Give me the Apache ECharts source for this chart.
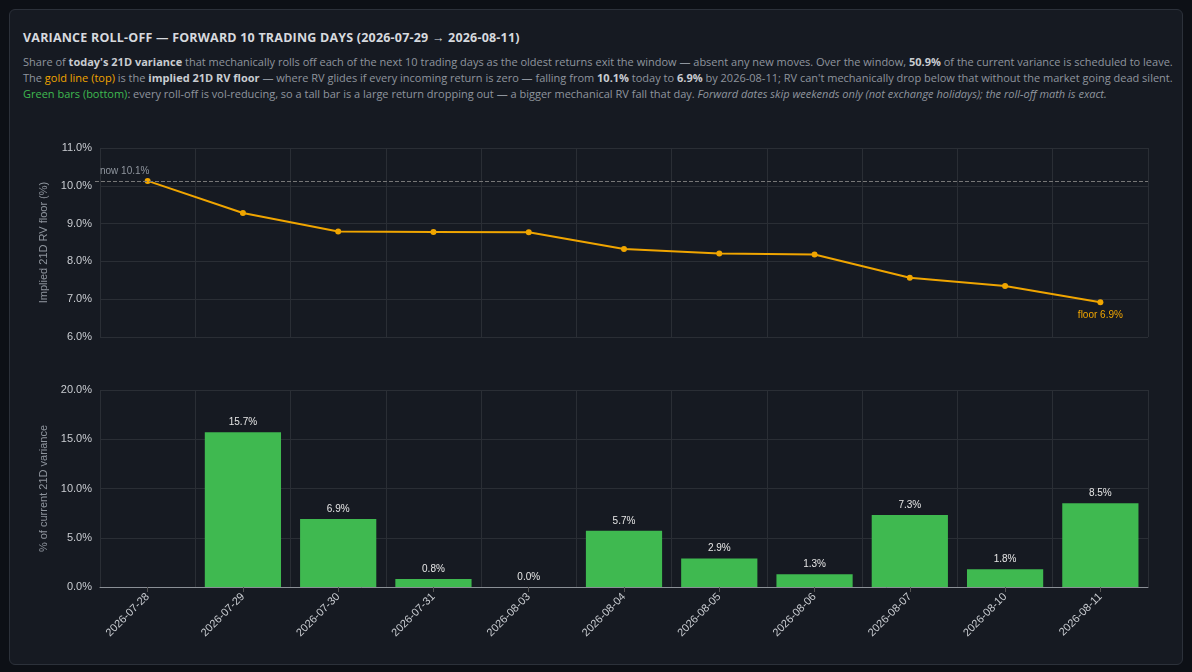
<!DOCTYPE html><html><head><meta charset="utf-8">
<script src="https://cdn.jsdelivr.net/npm/echarts@6/dist/echarts.min.js"></script>
<style>
html,body{margin:0;background:#0d1016;font-family:"Open Sans","Noto Sans",sans-serif;}
.card{position:absolute;left:9px;top:9px;width:1172px;height:654px;background:#161a22;border:1px solid #2c313a;border-radius:6px;}
h1{position:absolute;left:13px;top:19px;margin:0;font-size:12.5px;font-weight:700;color:#d6d9de;letter-spacing:0.2px;}
p{position:absolute;left:13px;top:44px;width:1150px;margin:0;font-size:11px;line-height:16px;color:#8f959e;}
p b{color:#c9ccd1}
#c{position:absolute;left:0;top:0;width:1192px;height:672px;}
</style></head><body>
<div class="card"><h1>VARIANCE ROLL-OFF — FORWARD 10 TRADING DAYS (2026-07-29 → 2026-08-11)</h1>
<p>Share of <b>today's 21D variance</b> that mechanically rolls off each of the next 10 trading days as the oldest returns exit the window — absent any new moves. Over the window, <b>50.9%</b> of the current variance is scheduled to leave. The <span style="color:#f0a500">gold line (top)</span> is the <b>implied 21D RV floor</b> — where RV glides if every incoming return is zero — falling from <b>10.1%</b> today to <b>6.9%</b> by 2026-08-11; RV can't mechanically drop below that without the market going dead silent. <span style="color:#3fb950">Green bars (bottom)</span>: every roll-off is vol-reducing, so a tall bar is a large return dropping out — a bigger mechanical RV fall that day. <i>Forward dates skip weekends only (not exchange holidays); the roll-off math is exact.</i></p></div>
<div id="c"></div>
<script>
const dates=["2026-07-28","2026-07-29","2026-07-30","2026-07-31","2026-08-03","2026-08-04","2026-08-05","2026-08-06","2026-08-07","2026-08-10","2026-08-11"];
const floorRV=[10.13,9.28,8.79,8.78,8.77,8.33,8.21,8.18,7.57,7.35,6.92];
const rolloff=[null,15.7,6.9,0.8,0.0,5.7,2.9,1.3,7.3,1.8,8.5];
const ch=echarts.init(document.getElementById('c'));
const axl={color:'#c9ccd1',fontSize:11};
const grid={color:'#2a2e35'};
ch.setOption({animation:false,
grid:[{left:100,right:44,top:148,height:189},{left:100,right:44,top:390,height:197}],
xAxis:[{type:'category',data:dates,gridIndex:0,axisLabel:{show:false},axisTick:{show:false},axisLine:{show:false},splitLine:{show:true,lineStyle:grid}},
{type:'category',data:dates,gridIndex:1,axisLabel:{color:'#c9ccd1',fontSize:11,rotate:45,interval:0},axisTick:{show:true,alignWithLabel:true,lineStyle:{color:'#555'}},axisLine:{lineStyle:{color:'#8a8f96'}},splitLine:{show:true,lineStyle:grid}}],
yAxis:[{type:'value',gridIndex:0,min:6,max:11,interval:1,axisLabel:{...axl,formatter:v=>v.toFixed(1)+'%'},splitLine:{lineStyle:grid},name:'Implied 21D RV floor (%)',nameLocation:'middle',nameGap:50,nameTextStyle:{color:'#8f959e',fontSize:11}},
{type:'value',gridIndex:1,min:0,max:20,interval:5,axisLabel:{...axl,formatter:v=>v.toFixed(1)+'%'},splitLine:{lineStyle:grid},name:'% of current 21D variance',nameLocation:'middle',nameGap:50,nameTextStyle:{color:'#8f959e',fontSize:11}}],
series:[{type:'line',xAxisIndex:0,yAxisIndex:0,data:floorRV,symbol:'circle',symbolSize:6,lineStyle:{color:'#f0a500',width:2},itemStyle:{color:'#f0a500'},
label:{show:true,color:'#f0a500',fontSize:10,position:'bottom',distance:5,formatter:p=>p.dataIndex===floorRV.length-1?'floor '+p.value.toFixed(1)+'%':''},
markLine:{symbol:'none',silent:true,lineStyle:{color:'#777',type:'dashed',width:1},label:{show:true,position:'insideStartTop',color:'#8f959e',fontSize:10,formatter:'now 10.1%'},data:[{yAxis:floorRV[0],x:95}]}},
{type:'bar',xAxisIndex:1,yAxisIndex:1,data:rolloff,barWidth:'80%',itemStyle:{color:'#3fb950'},label:{show:true,position:'top',color:'#e6e6e6',fontSize:10,formatter:p=>p.value.toFixed(1)+'%'}}]});
</script></body></html>
